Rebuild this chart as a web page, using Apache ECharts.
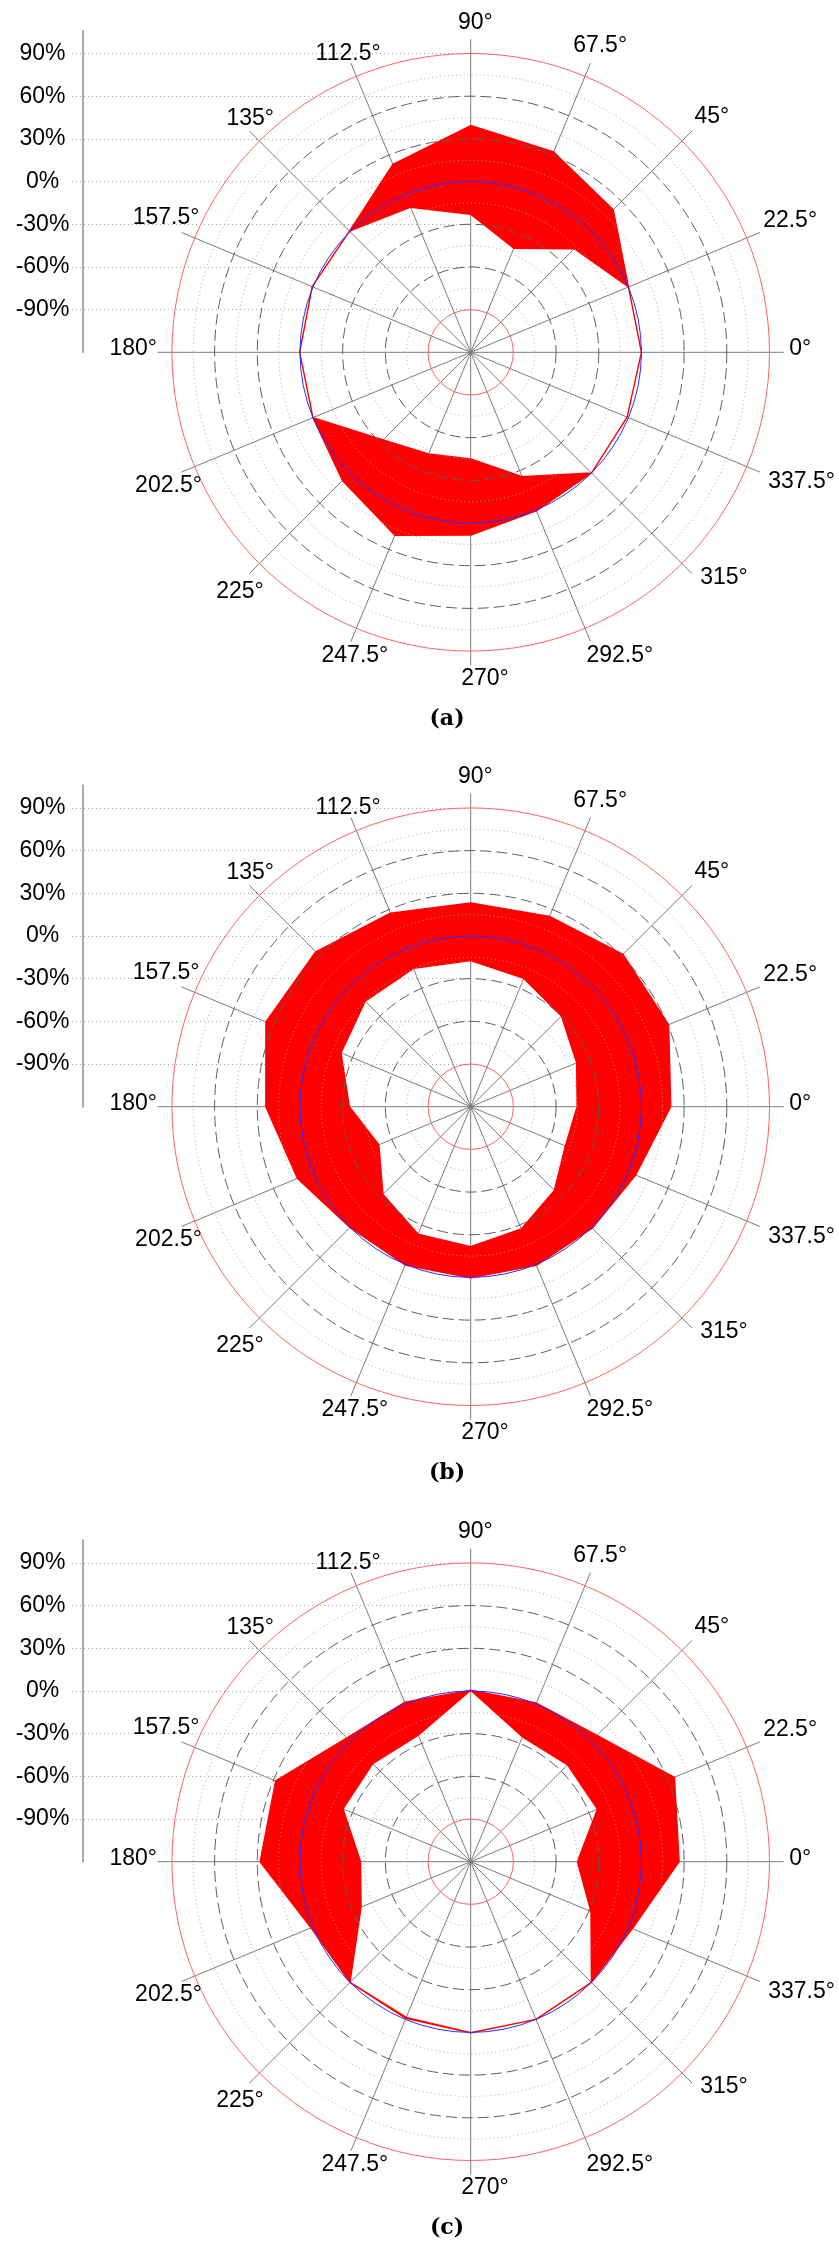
<!DOCTYPE html>
<html>
<head>
<meta charset="utf-8">
<script src="https://cdn.jsdelivr.net/npm/echarts@6/dist/echarts.min.js"></script>
<style>
  html, body { margin: 0; padding: 0; background: #ffffff; }
  #main { width: 839px; height: 2243px; }
</style>
</head>
<body>
<div id="main"></div>
<script>
// Directions, one every 22.5 degrees (counter-clockwise from east)
const angles = [0, 22.5, 45, 67.5, 90, 112.5, 135, 157.5, 180, 202.5, 225, 247.5, 270, 292.5, 315, 337.5];

// Panel (a): upper and lower envelope, percent
const upperA = [0, 0, 21.7, 32.4, 39.4, 22.9, 0.5, 0.6, 0.2, 0, 7.5, 19.2, 8.4, 0.6, 0, -1];
const lowerA = [0, 0, -17, -40.8, -23, -9.6, 0.5, 0.6, 0.2, 0, -33, -42.7, -45, -25.4, 0, -1];

// Panel (b)
const upperB = [20.6, 30.6, 31.4, 24.8, 23.2, 27.2, 34, 35.8, 24, 11.8, 0, 0.4, 0.2, 0.7, 0.8, 5.5];
const lowerB = [-45.2, -39.4, -29.8, -22.4, -17.3, -14.8, -15.1, -21.3, -34.7, -50.1, -32.8, -23.1, -21.6, -27, -36.8, -48];

// Panel (c)
const upperC = [26.5, 35, 5.5, 0.7, 0.5, 1.3, 3, 28.4, 28, 1.5, 0, -0.8, 0.2, 0, 0, 3];
const lowerC = [-45, -23.6, -23.7, -25, 0.5, -23.7, -22.6, -22.8, -42.6, -36.6, 0, -1.5, 0.2, 0, 0, -28.5];

const panelNames = ['(a)', '(b)', '(c)'];
const panelUpper = [upperA, upperB, upperC];
const panelLower = [lowerA, lowerB, lowerC];

// Radial scale (percent): centre of the dial is -120 %, spokes run to 100 %
const R_MIN = -120, R_MAX = 100, R_STEP = 15;
const LEFT_AXIS_MAX = 106;
const dottedRings = [-75, -45, -15, 15, 45, 75];
const dashedRings = [-60, -30, 30, 60];
const limitRings = [-90, 90];
const referenceRing = 0;

// ---- layout ----
const W = 839;
const CX = 470.7;
const CENTERS_Y = [352.3, 1106.7, 1861.7];
const R_POLAR = 313;                       // pixel radius of the spokes
const PX_PER_UNIT = R_POLAR / (R_MAX - R_MIN);
const FONT = '"Liberation Sans", Arial, Helvetica, sans-serif';

// Where each direction label sits: [distance from centre in px, direction in degrees]
const labelSpots = [[329.6, 0.6], [345.5, 22.4], [336.9, 44.3], [332.6, 67.1], [329.8, 89.2],
  [323, 112.3], [321.4, 133.3], [333, 156.2], [337.5, 179.4], [330.3, 203.8], [332.2, 226],
  [324.6, 249.1], [326.4, 272.5], [337.8, 296.2], [338.7, 318.4], [355.4, 338.6]];

const TRANSPARENT = 'rgba(0,0,0,0)';
const ringTicks = [];
for (let v = R_MIN; v <= R_MAX - 1e-9; v += R_STEP) ringTicks.push(v);
if (ringTicks[ringTicks.length - 1] < R_MAX) ringTicks.push(R_MAX);

const chart = echarts.init(document.getElementById('main'), null, { renderer: 'canvas' });

function hiddenAngleAxis(polarIndex, showSpokes) {
  return {
    polarIndex: polarIndex, type: 'value', min: 0, max: 360, interval: 22.5,
    startAngle: 0, clockwise: false, z: 0,
    axisLine: { show: false }, axisTick: { show: false }, axisLabel: { show: false },
    splitLine: { show: !!showSpokes, lineStyle: { color: '#7c7c7c', width: 1 } }
  };
}

function ringAxis(polarIndex, colorFor, type, width, z) {
  return {
    polarIndex: polarIndex, type: 'value', min: R_MIN, max: R_MAX, interval: R_STEP, z: z,
    axisLine: { show: false }, axisTick: { show: false }, axisLabel: { show: false },
    splitLine: { show: true, lineStyle: { color: ringTicks.map(colorFor), type: type, width: width } }
  };
}

// Filled band between the lower and the upper envelope
function bandRenderer(params, api) {
  if (params.dataIndexInside !== 0) return null;
  const n = params.dataInsideLength;
  const outer = [], inner = [];
  for (let i = 0; i < n; i++) {
    const ang = api.value(1, i);
    outer.push(api.coord([api.value(0, i), ang]));
    inner.push(api.coord([api.value(2, i), ang]));
  }
  return {
    type: 'polygon',
    shape: { points: outer.concat(inner.reverse()) },
    style: { fill: '#ff0000', stroke: '#ff0000', lineWidth: 1.4, lineJoin: 'round' }
  };
}

const polar = [], angleAxis = [], radiusAxis = [], series = [];
const grid = [], xAxis = [], yAxis = [];

CENTERS_Y.forEach(function (cy, k) {
  const base = 4 * k;
  for (let j = 0; j < 4; j++) {
    polar.push({ center: [CX, cy], radius: R_POLAR });
  }
  // spokes
  angleAxis.push(hiddenAngleAxis(base, true));
  radiusAxis.push(ringAxis(base, function () { return TRANSPARENT; }, 'solid', 1, 0));
  // dotted rings
  angleAxis.push(hiddenAngleAxis(base + 1, false));
  radiusAxis.push(ringAxis(base + 1, function (v) {
    return dottedRings.indexOf(v) >= 0 ? '#a8a8a8' : TRANSPARENT;
  }, [1, 3], 1, 5));
  // dashed rings
  angleAxis.push(hiddenAngleAxis(base + 2, false));
  radiusAxis.push(ringAxis(base + 2, function (v) {
    return dashedRings.indexOf(v) >= 0 ? '#5e5e5e' : TRANSPARENT;
  }, [11, 5], 1, 5));
  // limit rings and reference ring
  angleAxis.push(hiddenAngleAxis(base + 3, false));
  radiusAxis.push(ringAxis(base + 3, function (v) {
    if (limitRings.indexOf(v) >= 0) return '#ff6464';
    if (v === referenceRing) return '#2b2bff';
    return TRANSPARENT;
  }, 'solid', 1, 6));

  const up = panelUpper[k], lo = panelLower[k];
  const data = angles.concat([360]).map(function (a, i) {
    const j = i % angles.length;
    return [up[j], a, lo[j]];
  });
  series.push({
    type: 'custom', coordinateSystem: 'polar', polarIndex: base, z: 2,
    dimensions: ['upper', 'angle', 'lower'],
    encode: { radius: 0, angle: 1 },
    renderItem: bandRenderer,
    data: data,
    silent: true
  });

  // left percentage scale
  const h = (LEFT_AXIS_MAX - R_MIN) * PX_PER_UNIT;
  grid.push({ left: 72, top: cy - h, width: CX - 72, height: h, containLabel: false });
  xAxis.push({ gridIndex: k, type: 'value', min: 0, max: 1, show: false });
  yAxis.push({
    gridIndex: k, type: 'value', min: R_MIN, max: LEFT_AXIS_MAX, interval: 30, offset: -11, z: 0,
    axisLine: { show: true, lineStyle: { color: '#ababab', width: 2 } },
    axisTick: { show: false },
    axisLabel: {
      show: true, align: 'center', margin: 40.5, fontSize: 23, fontFamily: FONT, color: '#000',
      formatter: function (v) { return (v > R_MIN && v <= 90) ? v + '%' : ''; }
    },
    splitLine: { show: true, showMinLine: false, showMaxLine: false,
      lineStyle: { color: '#a8a8a8', type: [1, 3], width: 1 } }
  });
});

chart.setOption({
  animation: false,
  backgroundColor: '#ffffff',
  polar: polar, angleAxis: angleAxis, radiusAxis: radiusAxis,
  grid: grid, xAxis: xAxis, yAxis: yAxis,
  series: series
});

// Direction labels and panel captions
const graphics = [];
function radiusValueAt(px) { return R_MIN + px / PX_PER_UNIT; }
CENTERS_Y.forEach(function (cy, k) {
  angles.forEach(function (a, i) {
    const spot = labelSpots[i];
    const p = chart.convertToPixel({ polarIndex: 4 * k }, [radiusValueAt(spot[0]), spot[1]]);
    graphics.push({
      type: 'text', x: p[0], y: p[1], z: 10,
      style: { text: a + '\u00b0', fontSize: 23, fontFamily: FONT, fill: '#000',
        align: 'center', verticalAlign: 'middle' }
    });
  });
  const bottom = chart.convertToPixel({ polarIndex: 4 * k }, [radiusValueAt(366.7), 270]);
  graphics.push({
    type: 'text', x: 447, y: bottom[1], z: 10,
    style: { text: panelNames[k], fontSize: 22, fontWeight: 'bold',
      fontFamily: '"DejaVu Serif", "Liberation Serif", serif', fill: '#000',
      align: 'center', verticalAlign: 'middle' }
  });
});
chart.setOption({ graphic: graphics });
</script>
</body>
</html>
